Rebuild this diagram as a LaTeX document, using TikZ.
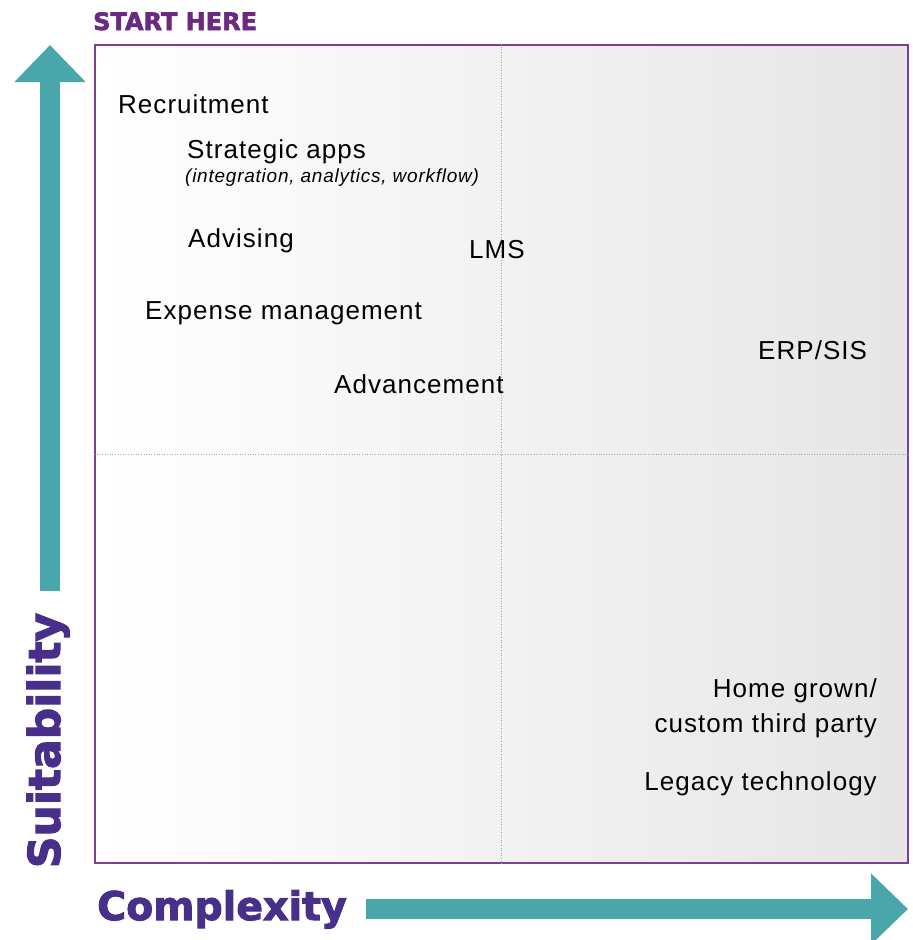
\documentclass[tikz,border=0pt]{standalone}
\usepackage{fontspec}
\setmainfont{Liberation Sans}
\newfontfamily\headfont[BoldFeatures={FakeBold=2.5}]{DejaVu Sans}
\usepackage{tikz}
\usetikzlibrary{arrows.meta}
\usetikzlibrary{positioning}

\definecolor{axispurple}{HTML}{48308A}
\definecolor{startpurple}{HTML}{6A2A80}
\definecolor{framepurple}{HTML}{7D3F8F}
\definecolor{arrowteal}{HTML}{49A6AA}

\begin{document}
\begin{tikzpicture}[x=1pt,y=-1pt]
\tikzset{
    item/.style={
              anchor=base west,
                   inner sep=0pt,
                   font=\addfontfeatures{LetterSpace=4}\fontsize{26}{35}\selectfont
    },
    note/.style={
              anchor=base west,
                   inner sep=0pt,
                   font=\addfontfeatures{LetterSpace=4}\fontsize{19}{22}\selectfont\itshape
    },
    axisname/.style={
              inner sep=0pt,
                   text=axispurple,
                   font=\headfont\bfseries
    },
    axisarrow/.style={
              draw=arrowteal,
                   line width=20pt,
                   -{Triangle[length=37pt,width=69pt]}
    }
}
    \useasboundingbox (0,0) rectangle (913,940);

    % quadrant frame
    \node (grid)[draw=framepurple, line width=1.5pt, left color=white, right color=gray!20,
          minimum width=813pt, minimum height=818pt, inner sep=0pt] at (501.5,454) {};
    \draw[gray!70, dotted, line width=0.6pt] (grid.north) -- (grid.south);
    \draw[gray!70, dotted, line width=0.6pt] (grid.west) -- (grid.east);

    \node (start)[anchor=base west, inner sep=0pt, text=startpurple,
          font=\headfont\bfseries\fontsize{24}{26}\selectfont] at (93,30) {START HERE};

    % axes
    \coordinate (suitfoot) at (50,591);
    \coordinate (suittip) at (50,45);
    \coordinate (compfoot) at (366,909);
    \coordinate (comptip) at (908,909);
    \draw[axisarrow] (suitfoot) -- (suittip);
    \draw[axisarrow] (compfoot) -- (comptip);

    \node (suit)[axisname, rotate=90, anchor=base, font=\headfont\bfseries\fontsize{44}{48}\selectfont] at (60,740.5) {Suitability};
    \node (comp)[axisname, anchor=base west, font=\headfont\bfseries\fontsize{39.5}{44}\selectfont] at (97,920) {Complexity};

    % applications
    \node (recruit)[item] at (118,113) {Recruitment};
    \node (strat)[item] at (187,158) {Strategic apps};
    \node (stratnote)[note] at (185,182) {(integration, analytics, workflow)};
    \node (advise)[item] at (188,247) {Advising};
    \node (lms)[item] at (469,258) {LMS};
    \node (expense)[item] at (145,319) {Expense management};
    \node (advance)[item] at (334,393) {Advancement};
    \node (erp)[item] at (758,359) {ERP/SIS};
    \node (home)[item, anchor=base east, align=right] at (877,732) {Home grown/\\custom third party};
    \node (legacy)[item, anchor=base east] at (877,790) {Legacy technology};

\end{tikzpicture}
\end{document}
